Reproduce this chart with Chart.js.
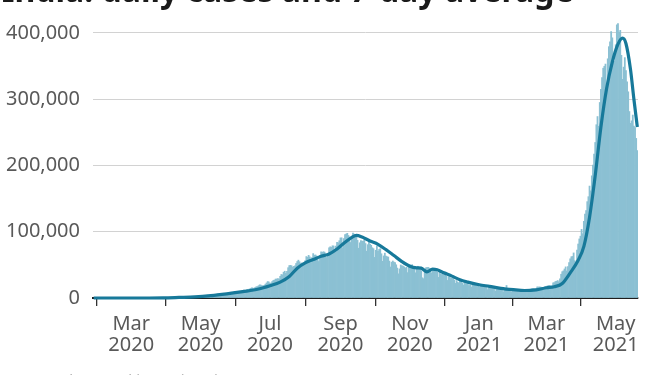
<!DOCTYPE html>
<html>
<head>
<meta charset="utf-8">
<script src="https://cdn.jsdelivr.net/npm/chart.js@4/dist/chart.umd.min.js"></script>
<style>
  html, body { margin: 0; padding: 0; background: #fff; overflow: hidden; }
  #wrap { position: relative; width: 651px; height: 375px; }
</style>
</head>
<body>
<div id="wrap"><canvas id="c"></canvas></div>
<script>
// ---- DATA ----
const titleText = "India: daily cases and 7-day average";
const sourceText = "Source: Johns Hopkins University";
const lastBarDate = '2021-05-20';

const cases2020Feb = [0,1,1,0,0,0,0,0,0,0,0,0,0,0,0,0,0,0,0,0,0,0,0,0,0,0,0,0,0];
const cases2020Mar = [0,2,0,1,22,2,1,3,5,9,15,8,10,10,11,10,14,20,22,43,62,69,97,94,86,88,153,136,120,187,309];
const cases2020Apr = [424,486,560,579,609,484,573,565,813,871,854,758,1243,1031,886,1061,922,1371,1580,1239,1537,1292,1667,1408,1835,1607,1568,1902,1705,1801];
const cases2020May = [2396,2564,2952,3656,2971,3602,3344,3339,3175,4311,3592,3562,3726,3991,3808,4794,5049,4628,6154,5720,6023,6536,6667,7111,6414,6566,7246,7254,8138,8364,8789];
const cases2020Jun = [7723,8812,9689,9849,9887,9971,9987,9983,9985,10956,11929,11502,10667,12881,10032,13586,14516,15413,14821,13560,15968,16922,17296,18552,19906,19459,18522,18653,19148,20903];
const cases2020Jul = [22771,24850,24248,22252,22752,24879,26506,27114,28637,28701,29429,28498,32695,35468,34956,38902,40425,37148,40243,45720,48916,49310,48661,46484,47704,48513,52123,55079,57118,54735,52050];
const cases2020Aug = [52972,50629,52509,56282,62538,61537,64399,62064,53601,60963,66999,64553,65002,63490,57981,55079,64531,69652,68898,69878,69239,61408,60975,67151,75760,77266,76472,78761,78512,69921,78357];
const cases2020Sep = [83883,83341,86432,90632,90802,75809,89706,95735,96551,97570,94372,92071,83809,90123,97894,96424,93337,92605,86961,75083,83347,86508,85362,86052,88600,82170,70589,80472,86821,81484];
const cases2020Oct = [79476,75829,74442,61267,72049,78524,70496,73272,74383,66732,55342,63509,67708,63371,62211,61871,55722,46790,54044,55839,54366,53370,50129,45149,36469,43893,49881,48648,48268,46963,45231];
const cases2020Nov = [46254,38310,46253,50210,47638,50356,45674,45903,38073,44281,47905,44879,44684,41100,30548,29163,38617,45576,45882,46232,45209,44059,37975,44376,43082,41322,41810,38772,31118,38772];
const cases2020Dec = [36604,35551,36595,36652,36011,32981,26567,32080,31522,29398,30006,30254,27071,22065,26382,24010,22890,25152,26624,22273,19556,24337,23950,24712,23067,18732,20021,16432,20550,21822,20035];
const cases2021Jan = [19078,18177,18088,16505,18088,20346,18139,18222,18645,16311,12584,15968,16946,15590,15158,15144,13788,10064,13823,15223,14545,14256,14849,13203,9102,12689,11666,18855,13083,11427,12193];
const cases2021Feb = [8635,11039,12899,11024,12408,11713,11831,9110,11067,12923,9309,12143,12194,11649,9121,11610,12881,13193,13993,14264,14199,10584,13742,16738,16577,16752,16488,15510];
const cases2021Mar = [12286,14989,17407,16838,18327,18711,18599,15388,17921,22854,23285,24882,25320,26291,24492,28903,35871,39726,40953,43846,46951,40715,47262,53476,59118,62258,62714,68020,56211,53480,72330];
const cases2021Apr = [81466,89129,93249,103558,96982,115736,126789,131968,145384,152879,168912,161736,184372,200739,217353,234692,261500,273810,259170,295041,314835,332730,346786,349691,352991,323144,360960,379257,386452,401993];
const cases2021May = [392488,368147,357229,382315,412262,414188,401078,403738,366161,329942,348421,362727,343144,326098,311170,281386,263533,267334,276070,259551,257299,240842,222315];

const avgDates = ['2020-01-28','2020-03-01','2020-03-15','2020-03-29','2020-04-12','2020-04-26','2020-05-10','2020-05-24','2020-06-07','2020-06-21','2020-07-01','2020-07-10','2020-07-18','2020-07-25','2020-08-01','2020-08-08','2020-08-15','2020-08-22','2020-08-29','2020-09-05','2020-09-11','2020-09-15','2020-09-20','2020-09-27','2020-10-04','2020-10-11','2020-10-18','2020-10-25','2020-11-01','2020-11-07','2020-11-11','2020-11-16','2020-11-21','2020-11-25','2020-12-01','2020-12-08','2020-12-15','2020-12-22','2021-01-01','2021-01-10','2021-01-20','2021-01-31','2021-02-10','2021-02-20','2021-03-01','2021-03-08','2021-03-15','2021-03-22','2021-03-29','2021-04-03','2021-04-08','2021-04-13','2021-04-18','2021-04-23','2021-04-28','2021-05-03','2021-05-07','2021-05-10','2021-05-14','2021-05-17','2021-05-20'];
const avgValues = [0,2,12,130,800,1600,3500,6300,9600,13500,18500,24000,32500,45000,53000,58000,63000,66500,74000,84000,91500,94500,92000,86000,81000,73000,64000,55000,48000,45500,45000,39500,43500,42500,38000,33000,27500,24000,20000,17500,14500,12500,11300,12300,15500,17000,22000,38000,57000,78000,122000,185000,258000,316000,356000,383000,392000,384000,345000,300000,258000];

const tickDates = ['2020-03-01','2020-05-01','2020-07-01','2020-09-01','2020-11-01','2021-01-01','2021-03-01','2021-05-01'];
const tickMonths = ['Mar','May','Jul','Sep','Nov','Jan','Mar','May'];
const tickYears = ['2020','2020','2020','2020','2020','2021','2021','2021'];
const yTickValues = [0,100000,200000,300000,400000];

// ---- BUILD ----
const DAY = 864e5;
const origin = Date.UTC(2020,0,1);
function dayIndex(s){ const p = s.split('-').map(Number); return Math.round((Date.UTC(p[0],p[1]-1,p[2]) - origin)/DAY); }

const allCases = [].concat(cases2020Feb,cases2020Mar,cases2020Apr,cases2020May,cases2020Jun,cases2020Jul,cases2020Aug,cases2020Sep,cases2020Oct,cases2020Nov,cases2020Dec,cases2021Jan,cases2021Feb,cases2021Mar,cases2021Apr,cases2021May);
const lastIdx = dayIndex(lastBarDate);
const barData = allCases.map((v,i) => ({x: lastIdx - (allCases.length-1-i), y: v}));
const lineData = avgDates.map((d,i) => ({x: dayIndex(d), y: avgValues[i]}));
const tickIdx = tickDates.map(dayIndex);

Chart.defaults.font.family = "'Noto Sans', 'Open Sans', sans-serif";
Chart.defaults.font.size = 20;
Chart.defaults.color = '#595959';

const textPlugin = {
  id: 'texts',
  afterDraw(chart){
    const ctx = chart.ctx;
    ctx.save();
    ctx.fillStyle = '#1a1a1a';
    ctx.font = "bold 32px 'Noto Sans', sans-serif";
    ctx.textBaseline = 'alphabetic';
    ctx.textAlign = 'left';
    ctx.fillText(titleText, 2, 2);
    ctx.fillStyle = '#b0b0b0';
    ctx.font = "15px 'Noto Sans', sans-serif";
    ctx.fillText(sourceText, 0, 385);
    ctx.restore();
  }
};

new Chart(document.getElementById('c'), {
  type: 'bar',
  data: {
    datasets: [
      {
        type: 'line',
        data: lineData,
        borderColor: '#17799a',
        borderWidth: 3.2,
        pointRadius: 0,
        cubicInterpolationMode: 'monotone',
        fill: false,
        order: 0,
        clip: false
      },
      {
        type: 'bar',
        data: barData,
        backgroundColor: '#8bc0d3',
        borderWidth: 0,
        barPercentage: 1,
        categoryPercentage: 1,
        order: 1
      }
    ]
  },
  options: {
    responsive: true,
    maintainAspectRatio: false,
    animation: false,
    devicePixelRatio: 1,
    layout: { padding: { left: 0, right: 13, top: 19, bottom: 0 } },
    plugins: { legend: { display: false }, tooltip: { enabled: false }, title: { display: false } },
    scales: {
      x: {
        type: 'linear',
        offset: false,
        min: dayIndex('2020-01-28') - 0.6,
        max: lastIdx + 0.6,
        afterBuildTicks(axis){ axis.ticks = tickIdx.map(v => ({value: v})); },
        afterFit(scale){ scale.height = 77; },
        grid: { drawOnChartArea: false, drawTicks: true, tickLength: 8, color: '#333', lineWidth: 1.3 },
        border: { display: true, color: '#1e1e1e', width: 2 },
        ticks: {
          autoSkip: false, maxRotation: 0, minRotation: 0, padding: 8,
          font: { size: 20, lineHeight: 1.05 },
          callback(value, index){ return [tickMonths[index], tickYears[index]]; }
        }
      },
      y: {
        min: 0,
        max: 421000,
        afterBuildTicks(axis){ axis.ticks = yTickValues.map(v => ({value: v})); },
        afterFit(scale){ scale.width = 93; scale.paddingTop = 0; scale.paddingBottom = 0; },
        grid: {
          drawTicks: false,
          color: (c) => (c.tick && c.tick.value === 0) ? 'rgba(0,0,0,0)' : '#d2d2d2',
          lineWidth: 1
        },
        border: { display: false },
        ticks: {
          padding: 13,
          callback(v){ return Number(v).toLocaleString('en-US'); }
        }
      }
    }
  },
  plugins: [textPlugin]
});
</script>
</body>
</html>
